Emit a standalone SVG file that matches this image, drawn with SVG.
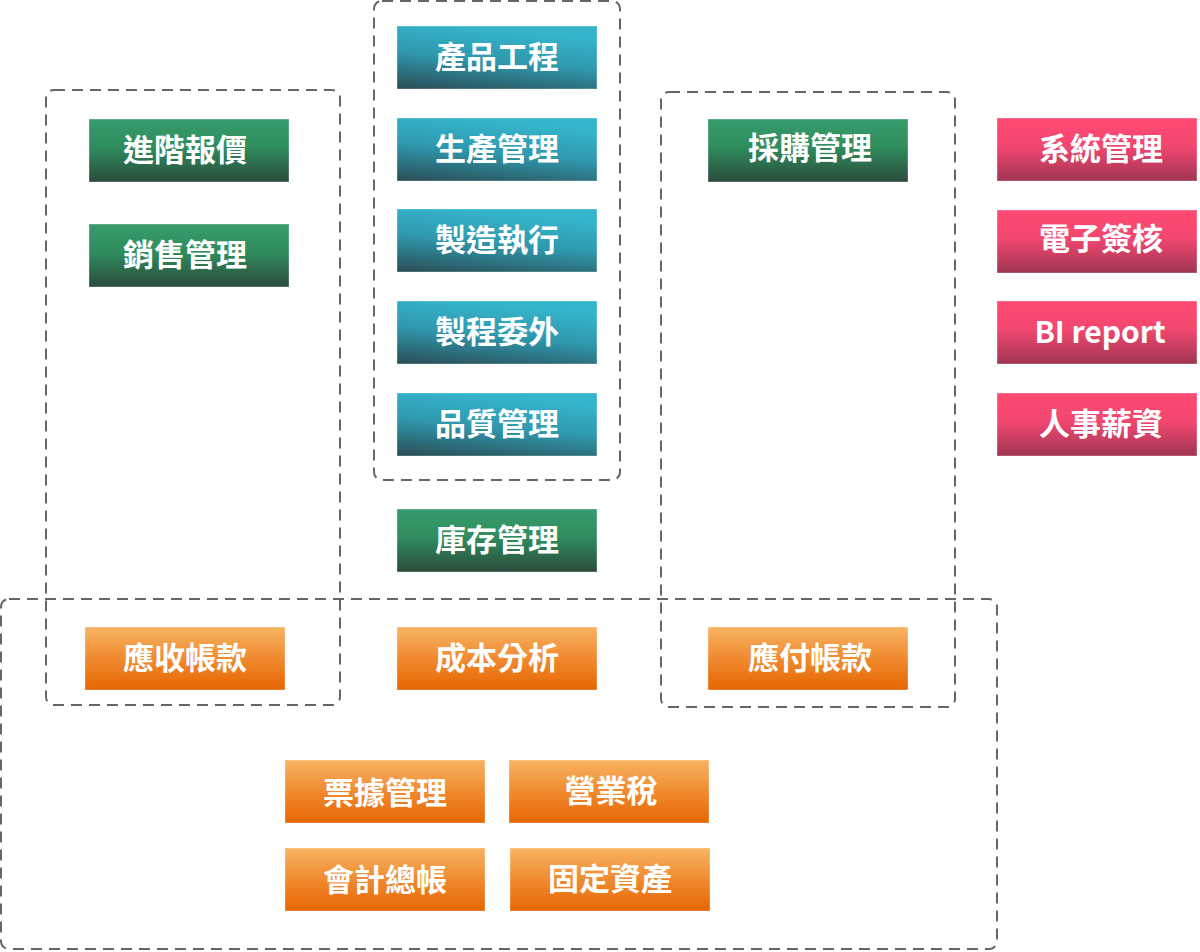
<svg xmlns="http://www.w3.org/2000/svg" width="1200" height="952" viewBox="0 0 1200 952">
<defs>
<linearGradient id="gGreen" x1="0" y1="0" x2="0" y2="1">
<stop offset="0" stop-color="#379c6b"/>
<stop offset="0.45" stop-color="#2f8c5d"/>
<stop offset="1" stop-color="#2b4b3c"/>
</linearGradient>
<linearGradient id="gTeal" x1="0.3" y1="0" x2="0" y2="1">
<stop offset="0" stop-color="#35b4cb"/>
<stop offset="0.45" stop-color="#2f98ad"/>
<stop offset="1" stop-color="#2a4c55"/>
</linearGradient>
<linearGradient id="gPink" x1="0" y1="0" x2="0" y2="1">
<stop offset="0" stop-color="#ff4a73"/>
<stop offset="0.45" stop-color="#f24770"/>
<stop offset="1" stop-color="#a03552"/>
</linearGradient>
<linearGradient id="gOrange" x1="0" y1="0" x2="0" y2="1">
<stop offset="0" stop-color="#f8b462"/>
<stop offset="0.5" stop-color="#f08a30"/>
<stop offset="1" stop-color="#e66600"/>
</linearGradient>
</defs>
<style>
.grp{fill:none;stroke:#666;stroke-width:2;stroke-dasharray:11 7;}
.n{stroke:rgba(255,255,255,0.35);stroke-width:1;}
.g{fill:url(#gGreen);}
.t{fill:url(#gTeal);}
.p{fill:url(#gPink);}
.o{fill:url(#gOrange);}
text{font-family:"Noto Sans CJK TC","Noto Sans CJK SC","Noto Sans",sans-serif;font-size:31px;font-weight:bold;fill:#fff;text-anchor:middle;dominant-baseline:central;}
.lat{font-size:30px;}
</style>
<rect width="1200" height="952" fill="#fff"/>
<g id="groups">
<rect class="grp" x="46" y="90" width="294" height="615" rx="8"/>
<rect class="grp" x="374" y="1" width="246" height="479" rx="8"/>
<rect class="grp" x="661" y="92" width="294" height="615" rx="8"/>
<rect class="grp" x="1" y="599" width="996" height="350" rx="8"/>
</g>
<g id="connectors"></g>
<g id="n1"><rect class="n g" x="89" y="119" width="200" height="63"/><text x="185" y="147">進階報價</text></g>
<g id="n2"><rect class="n g" x="89" y="224" width="200" height="63"/><text x="185" y="252">銷售管理</text></g>
<g id="n3"><rect class="n t" x="397" y="26" width="200" height="63"/><text x="497" y="54">產品工程</text></g>
<g id="n4"><rect class="n t" x="397" y="118" width="200" height="63"/><text x="497" y="146">生產管理</text></g>
<g id="n5"><rect class="n t" x="397" y="209" width="200" height="63"/><text x="497" y="237">製造執行</text></g>
<g id="n6"><rect class="n t" x="397" y="301" width="200" height="63"/><text x="497" y="329">製程委外</text></g>
<g id="n7"><rect class="n t" x="397" y="393" width="200" height="63"/><text x="497" y="421">品質管理</text></g>
<g id="n8"><rect class="n g" x="397" y="509" width="200" height="63"/><text x="497" y="537">庫存管理</text></g>
<g id="n9"><rect class="n g" x="708" y="119" width="200" height="63"/><text x="810" y="145">採購管理</text></g>
<g id="n10"><rect class="n p" x="997" y="118" width="200" height="63"/><text x="1101" y="146">系統管理</text></g>
<g id="n11"><rect class="n p" x="997" y="210" width="200" height="63"/><text x="1101" y="236">電子簽核</text></g>
<g id="n12"><rect class="n p" x="997" y="301" width="200" height="63"/><text class="lat" x="1100" y="330">BI report</text></g>
<g id="n13"><rect class="n p" x="997" y="393" width="200" height="63"/><text x="1101" y="421">人事薪資</text></g>
<g id="n14"><rect class="n o" x="85" y="627" width="200" height="63"/><text x="185" y="655">應收帳款</text></g>
<g id="n15"><rect class="n o" x="397" y="627" width="200" height="63"/><text x="497" y="655">成本分析</text></g>
<g id="n16"><rect class="n o" x="708" y="627" width="200" height="63"/><text x="810" y="655">應付帳款</text></g>
<g id="n17"><rect class="n o" x="285" y="760" width="200" height="63"/><text x="385" y="790">票據管理</text></g>
<g id="n18"><rect class="n o" x="509" y="760" width="200" height="63"/><text x="611" y="788">營業稅</text></g>
<g id="n19"><rect class="n o" x="285" y="848" width="200" height="63"/><text x="385" y="877">會計總帳</text></g>
<g id="n20"><rect class="n o" x="510" y="848" width="200" height="63"/><text x="610" y="876">固定資產</text></g>
</svg>
